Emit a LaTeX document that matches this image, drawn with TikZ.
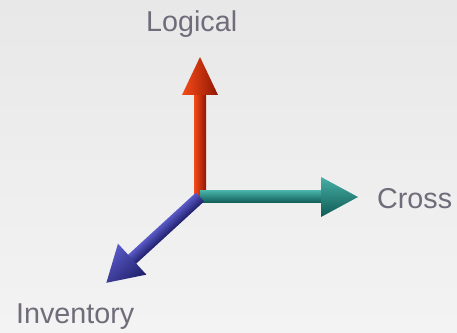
\documentclass[tikz,border=0pt]{standalone}
\usepackage{fontspec}
\setmainfont{Liberation Sans}
\begin{document}
\definecolor{txtgray}{RGB}{112,108,122}
\definecolor{bgtop}{RGB}{232,232,232}
\definecolor{bgbot}{RGB}{243,243,243}
\definecolor{redL}{RGB}{245,75,25}
\definecolor{redM}{RGB}{218,42,4}
\definecolor{redD}{RGB}{145,22,2}
\definecolor{tealL}{RGB}{70,175,165}
\definecolor{tealM}{RGB}{30,140,130}
\definecolor{tealD}{RGB}{15,90,85}
\definecolor{blueL}{RGB}{90,90,200}
\definecolor{blueM}{RGB}{55,55,162}
\definecolor{blueD}{RGB}{30,30,105}
% #1 x, #2 y of the foot, #3 angle, #4 shaft length, #5 head length,
% #6 head half width, #7 colour on the +y side, #8 middle, #9 colour on the -y side
\newcommand{\axisarrow}[9]{%
  \begin{scope}[transform canvas={shift={(#1,#2)},rotate=#3}]
    \shade[top color=#7,middle color=#8,bottom color=#9]
      (0,-6) rectangle (#4+1,6);
    \shade[top color=#7,middle color=#8,bottom color=#9]
      (#4,-#6) -- (#4+#5,0) -- (#4,#6) -- cycle;
  \end{scope}}
\begin{tikzpicture}[x=1pt,y=1pt,
    axislabel/.style={text=txtgray,inner sep=0pt,font=\fontsize{28.7}{30}\selectfont}]
  \useasboundingbox (0,0) rectangle (457,332);
  \shade[top color=bgtop,bottom color=bgbot] (0,0) rectangle (457,332);
  \coordinate (O) at (200,135);
  % vertical axis
  \axisarrow{200}{135}{90}{102}{38}{18}{redL}{redM}{redD}
  % horizontal axis
  \axisarrow{200}{135}{0}{121}{37}{20}{tealL}{tealM}{tealD}
  % oblique axis
  \axisarrow{200}{135}{222.5}{92}{35}{21}{blueD}{blueM}{blueL}
  \node[axislabel,anchor=base west] (logical) at (146,300) {Logical};
  \node[axislabel,anchor=base west] (cross) at (377,124) {Cross};
  \node[axislabel,anchor=base west] (inventory) at (16,9) {Inventory};
\end{tikzpicture}
\end{document}
